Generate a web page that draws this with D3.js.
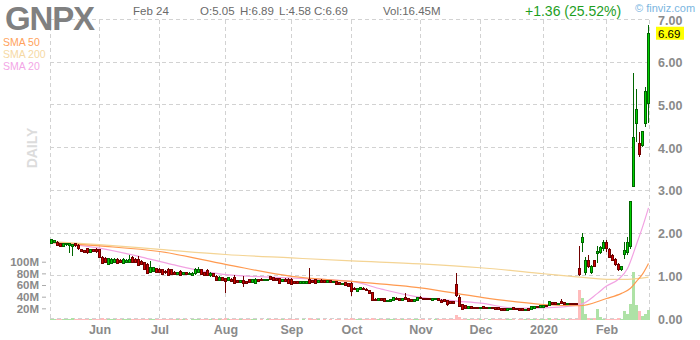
<!DOCTYPE html>
<html>
<head>
<meta charset="utf-8">
<script src="https://d3js.org/d3.v7.min.js"></script>
<style>
  body { margin: 0; background: #fff; }
  text { font-family: "Liberation Sans", Arial, sans-serif; }
</style>
</head>
<body>
<script>
// daily candles, May 9 2019 .. Feb 24 2020 (trading days)
var open = [
  1.77,1.80,1.80,1.76,1.70,1.74,1.72,1.70,1.76,1.73,
  1.62,1.60,1.64,1.55,1.62,1.63,1.62,1.45,1.42,1.28,
  1.30,1.32,1.40,1.38,1.30,1.32,1.33,1.45,1.40,1.40,
  1.35,1.32,1.28,1.10,1.12,1.18,1.17,1.15,1.12,1.17,
  1.15,1.10,1.04,1.12,1.04,1.09,1.04,1.03,1.06,1.10,
  1.16,1.08,1.14,1.01,1.06,1.00,0.90,0.97,0.95,0.90,
  0.93,0.97,0.90,0.85,0.90,0.88,0.92,0.86,0.83,0.92,
  0.93,0.89,0.90,0.99,0.97,0.95,0.95,0.88,0.93,0.93,
  0.93,0.88,0.87,0.83,0.84,0.84,0.93,0.90,0.92,0.85,
  0.91,0.90,0.86,0.90,0.85,0.87,0.85,0.80,0.85,0.82,
  0.84,0.72,0.64,0.68,0.72,0.70,0.66,0.62,0.46,0.43,
  0.47,0.48,0.41,0.42,0.44,0.49,0.48,0.44,0.50,0.48,
  0.46,0.40,0.44,0.51,0.48,0.48,0.49,0.44,0.45,0.47,
  0.44,0.45,0.43,0.40,0.40,0.80,0.51,0.33,0.31,0.24,
  0.29,0.28,0.28,0.24,0.29,0.28,0.24,0.28,0.27,0.27,
  0.25,0.25,0.21,0.22,0.26,0.25,0.24,0.24,0.20,0.24,
  0.23,0.25,0.29,0.27,0.28,0.32,0.32,0.38,0.38,0.34,
  0.42,0.38,0.34,0.37,0.37,0.36,1.19,1.78,1.08,1.37,
  1.08,1.36,1.54,1.55,1.64,1.80,1.62,1.48,1.40,1.28,
  1.15,1.50,1.55,1.70,3.11,4.57,4.12,4.07,4.57,5.05
];
var high = [
  1.88,1.86,1.82,1.78,1.78,1.78,1.79,1.76,1.78,1.75,
  1.64,1.62,1.66,1.64,1.64,1.66,1.64,1.47,1.44,1.43,
  1.42,1.42,1.42,1.40,1.42,1.40,1.49,1.47,1.42,1.48,
  1.37,1.34,1.30,1.35,1.22,1.20,1.19,1.17,1.14,1.19,
  1.17,1.12,1.10,1.14,1.11,1.11,1.09,1.09,1.20,1.22,
  1.18,1.10,1.16,1.09,1.08,1.02,1.00,0.99,0.97,0.98,
  0.95,1.03,0.92,0.92,1.00,0.90,0.94,0.93,0.95,0.94,
  0.95,0.93,0.94,1.01,0.99,0.97,0.97,0.93,0.95,0.95,
  0.95,0.90,0.89,0.88,0.89,0.88,1.19,0.92,0.94,0.91,
  0.93,0.92,0.91,0.92,0.89,0.89,0.87,0.85,0.87,0.84,
  0.86,0.74,0.73,0.76,0.74,0.72,0.68,0.64,0.48,0.48,
  0.49,0.50,0.45,0.47,0.51,0.51,0.50,0.50,0.60,0.50,
  0.47,0.46,0.51,0.53,0.50,0.49,0.50,0.48,0.49,0.49,
  0.46,0.46,0.44,0.42,0.41,1.07,0.56,0.34,0.32,0.30,
  0.30,0.29,0.29,0.29,0.30,0.29,0.29,0.29,0.28,0.28,
  0.26,0.26,0.25,0.26,0.27,0.26,0.25,0.25,0.24,0.25,
  0.30,0.30,0.30,0.32,0.33,0.33,0.41,0.39,0.39,0.38,
  0.47,0.39,0.38,0.38,0.38,0.37,1.71,2.01,1.45,1.50,
  1.27,1.38,1.70,1.72,1.86,1.84,1.66,1.52,1.42,1.30,
  1.25,1.80,1.92,2.76,5.76,5.39,4.38,4.40,5.43,6.89
];
var low = [
  1.75,1.78,1.71,1.68,1.69,1.72,1.55,1.47,1.69,1.62,
  1.56,1.54,1.53,1.54,1.56,1.55,1.44,1.29,1.31,1.27,
  1.29,1.31,1.29,1.30,1.29,1.31,1.32,1.32,1.31,1.24,
  1.27,1.14,1.06,1.09,1.10,1.09,1.07,1.04,1.06,1.02,
  1.03,1.02,1.02,1.00,1.02,1.02,1.02,1.01,1.04,1.08,
  1.03,1.01,1.00,0.99,0.98,0.88,0.88,0.89,0.62,0.88,
  0.87,0.82,0.84,0.84,0.74,0.83,0.84,0.85,0.82,0.87,
  0.88,0.88,0.89,0.91,0.90,0.89,0.82,0.87,0.87,0.81,
  0.79,0.83,0.82,0.82,0.83,0.83,0.83,0.85,0.82,0.84,
  0.85,0.85,0.85,0.85,0.84,0.79,0.80,0.79,0.77,0.76,
  0.55,0.67,0.63,0.67,0.67,0.65,0.59,0.42,0.42,0.42,
  0.42,0.39,0.40,0.41,0.43,0.44,0.43,0.43,0.45,0.39,
  0.40,0.39,0.43,0.46,0.44,0.45,0.44,0.43,0.44,0.43,
  0.37,0.39,0.30,0.36,0.35,0.52,0.28,0.22,0.24,0.23,
  0.24,0.23,0.24,0.23,0.24,0.24,0.23,0.24,0.21,0.22,
  0.19,0.20,0.20,0.21,0.22,0.21,0.20,0.19,0.19,0.20,
  0.22,0.24,0.25,0.26,0.27,0.29,0.31,0.34,0.33,0.33,
  0.36,0.34,0.33,0.33,0.34,0.32,1.00,1.57,1.03,1.20,
  1.05,1.22,1.30,1.52,1.60,1.58,1.42,1.35,1.24,1.13,
  1.13,1.40,1.50,1.65,3.09,4.15,3.80,4.02,4.50,4.58
];
var close = [
  1.86,1.84,1.72,1.69,1.76,1.76,1.76,1.74,1.71,1.64,
  1.58,1.56,1.55,1.62,1.58,1.57,1.45,1.30,1.33,1.42,
  1.40,1.40,1.30,1.32,1.40,1.38,1.40,1.33,1.33,1.25,
  1.28,1.15,1.07,1.20,1.20,1.10,1.08,1.05,1.08,1.03,
  1.04,1.04,1.08,1.01,1.09,1.04,1.07,1.07,1.16,1.17,
  1.04,1.03,1.01,1.07,0.99,0.89,0.98,0.90,0.88,0.96,
  0.88,0.83,0.85,0.90,0.82,0.84,0.85,0.92,0.93,0.88,
  0.89,0.92,0.93,0.92,0.91,0.90,0.83,0.92,0.88,0.82,
  0.80,0.84,0.83,0.87,0.88,0.87,0.84,0.86,0.83,0.90,
  0.86,0.86,0.90,0.86,0.88,0.80,0.81,0.84,0.78,0.77,
  0.64,0.68,0.72,0.74,0.68,0.66,0.60,0.43,0.43,0.47,
  0.43,0.40,0.44,0.46,0.50,0.45,0.44,0.49,0.46,0.40,
  0.41,0.45,0.50,0.47,0.45,0.46,0.45,0.47,0.48,0.44,
  0.38,0.40,0.34,0.37,0.36,0.56,0.29,0.23,0.25,0.29,
  0.25,0.24,0.25,0.28,0.25,0.25,0.28,0.25,0.22,0.23,
  0.20,0.21,0.24,0.25,0.23,0.22,0.21,0.20,0.23,0.21,
  0.29,0.29,0.26,0.31,0.32,0.30,0.40,0.35,0.34,0.37,
  0.37,0.35,0.37,0.34,0.35,0.33,1.05,1.90,1.38,1.24,
  1.24,1.24,1.58,1.67,1.80,1.65,1.45,1.38,1.28,1.15,
  1.22,1.60,1.80,2.74,4.26,4.90,3.86,4.38,5.33,6.69
];
// volume in millions
var volume = [
  2.1,1.5,1.8,1.6,1.2,1.1,2.4,2.8,1.3,1.6, 1.4,1.2,1.5,1.1,1.0,1.3,2.2,2.6,1.7,1.9,
  1.3,1.1,1.4,1.0,1.2,0.9,1.6,1.4,1.1,1.8, 1.2,2.0,2.3,1.9,1.3,1.2,1.5,1.4,1.1,1.6,
  1.3,1.0,0.9,1.2,1.1,1.0,0.8,0.9,1.7,1.8, 1.4,1.0,1.3,0.9,1.1,1.6,1.2,1.0,3.2,1.4,
  1.1,1.5,0.9,1.0,1.8,0.9,1.0,1.1,1.2,0.8, 0.9,0.8,0.9,1.1,1.0,0.9,1.3,1.0,0.9,1.2,
  1.4,1.0,0.9,0.8,0.9,0.8,3.0,1.2,1.1,0.9, 0.8,0.9,0.8,0.9,0.8,1.1,1.0,0.8,1.2,1.1,
  2.6,1.4,1.2,1.3,0.9,1.0,1.3,2.9,1.5,1.1, 1.0,1.3,0.9,1.0,1.2,0.9,1.0,1.1,1.6,1.4,
  1.1,1.0,1.2,1.1,0.9,0.8,0.9,0.8,0.9,1.0, 1.4,1.2,1.8,1.0,1.1,9.0,4.5,2.2,1.5,1.2,
  1.0,0.9,1.1,1.0,0.9,0.8,1.0,0.9,1.2,1.0, 1.3,1.1,0.9,1.0,0.9,0.8,0.9,1.1,1.0,0.9,
  1.4,1.2,1.0,1.3,1.5,1.1,3.0,1.6,1.4,1.2, 2.5,1.3,1.1,1.2,1.0,1.1,51,38,10,4,
  2.2,2.6,19,5,2.5,2.0,2.4,1.8,2.2,2.6, 1.9,15,10,27,82,26,15,7,11,16.45
];

// moving averages at a few days
var sma50Days  = [0, 16, 36, 58, 80, 100, 123, 143, 155, 164, 176, 185, 190, 193, 195, 197, 199];
var sma50      = [1.79, 1.71, 1.58, 1.28, 1.00, 0.88, 0.73, 0.51, 0.40, 0.34, 0.31, 0.48, 0.60, 0.72, 0.88, 1.05, 1.30];
var sma200Days = [0, 16, 36, 58, 80, 100, 123, 143, 164, 176, 185, 192, 199];
var sma200     = [1.81, 1.74, 1.63, 1.51, 1.43, 1.36, 1.29, 1.20, 1.06, 0.98, 0.93, 0.93, 0.98];
var sma20Days  = [0, 16, 30, 40, 58, 80, 100, 110, 121, 135, 143, 155, 164, 176, 182, 185, 189, 192, 195, 197, 199];
var sma20      = [1.79, 1.66, 1.45, 1.28, 1.04, 0.96, 0.88, 0.70, 0.53, 0.42, 0.37, 0.25, 0.26, 0.33, 0.60, 0.77, 0.93, 1.18, 1.75, 2.15, 2.60];

var monthDays   = [16, 36, 58, 80, 100, 123, 143, 164, 185];
var monthLabels = ["Jun", "Jul", "Aug", "Sep", "Oct", "Nov", "Dec", "2020", "Feb"];
var priceTicks  = [0, 1, 2, 3, 4, 5, 6, 7];
var volTicks    = [20, 40, 60, 80, 100];

function init(){

    var w = 700;
    var h = 340;

    var svg = d3.select("body")
                .append("svg")
                .attr("width", w)
                .attr("height", h);

    svg.append("rect").attr("width", w).attr("height", h).attr("fill", "#fff");

    var x = d3.scaleLinear().domain([-0.5, close.length - 0.5]).range([50, 650]);
    var y = d3.scaleLinear().domain([0, 7]).range([319, 20]);
    var yv = d3.scaleLinear().domain([0, 100]).range([320, 261.7]);

    var snap = function(v){ return Math.round(v) + 0.5; };
    var cx = function(i){ return Math.floor(x(i)) + 0.5; };

    //GRID
    var grid = svg.append("g")
        .attr("stroke", "#d2d2d2")
        .attr("stroke-dasharray", "4,3")
        .attr("shape-rendering", "crispEdges");

    grid.selectAll(".hg")
        .data(priceTicks)
        .enter()
        .append("line")
        .attr("x1", 50).attr("x2", 650)
        .attr("y1", function(d){ return snap(y(d)) - 1; })
        .attr("y2", function(d){ return snap(y(d)) - 1; });

    grid.selectAll(".vg")
        .data([-0.5].concat(monthDays).concat([close.length - 0.5]))
        .enter()
        .append("line")
        .attr("x1", function(d){ return d < 0 ? 50.5 : (d > 199 ? 649.5 : cx(d)); })
        .attr("x2", function(d){ return d < 0 ? 50.5 : (d > 199 ? 649.5 : cx(d)); })
        .attr("y1", 20).attr("y2", 319);

    //VOLUME
    svg.append("g")
        .selectAll("rect")
        .data(volume)
        .enter()
        .append("rect")
        .attr("x", function(d, i){ return x(i) - 1.5; })
        .attr("width", 3)
        .attr("y", function(d){ return yv(d); })
        .attr("height", function(d){ return yv(0) - yv(d); })
        .attr("fill", function(d, i){ return close[i] >= open[i] ? "#aee2a6" : "#ffbcbc"; })
        .attr("shape-rendering", "crispEdges");

    //MOVING AVERAGES
    var drawSma = function(days, vals, color){
        var line = d3.line()
            .x(function(d){ return x(d[0]); })
            .y(function(d){ return y(d[1]); })
            .curve(d3.curveMonotoneX);
        svg.append("path")
            .datum(d3.zip(days, vals))
            .attr("d", line)
            .attr("fill", "none")
            .attr("stroke", color)
            .attr("stroke-width", 1.2);
    };
    drawSma(sma200Days, sma200, "#f4d494");
    drawSma(sma20Days, sma20, "#f2a2e2");
    drawSma(sma50Days, sma50, "#ff9a50");

    //CANDLES
    var candles = svg.append("g")
        .attr("shape-rendering", "crispEdges")
        .selectAll("g")
        .data(close)
        .enter()
        .append("g");

    candles.append("line")
        .attr("x1", function(d, i){ return cx(i); })
        .attr("x2", function(d, i){ return cx(i); })
        .attr("y1", function(d, i){ return y(high[i]); })
        .attr("y2", function(d, i){ return y(low[i]); })
        .attr("stroke", function(d, i){ return d >= open[i] ? "#006600" : "#700000"; });

    candles.append("rect")
        .attr("x", function(d, i){ return cx(i) - 1; })
        .attr("width", 2)
        .attr("y", function(d, i){ return y(Math.max(d, open[i])); })
        .attr("height", function(d, i){ return Math.max(1, y(Math.min(d, open[i])) - y(Math.max(d, open[i]))); })
        .attr("fill", function(d, i){ return d >= open[i] ? "#00d000" : "#d00000"; })
        .attr("stroke", function(d, i){ return d >= open[i] ? "#006600" : "#700000"; })
        .attr("stroke-width", 1);

    //RIGHT PRICE AXIS
    var axisR = svg.append("g")
        .attr("transform", "translate(650,0)")
        .call(d3.axisRight(y).tickValues(priceTicks).tickFormat(d3.format(".2f")).tickSize(0).tickPadding(8));
    axisR.select(".domain").remove();
    axisR.selectAll("text")
        .attr("fill", "#8a8a8a")
        .attr("font-size", 12.5)
        .attr("font-weight", "bold")
        .attr("font-family", "'Liberation Sans', Arial, sans-serif");

    //LAST PRICE TAG
    var last = close[close.length - 1];
    svg.append("rect")
        .attr("x", 656).attr("y", y(last) - 6.5)
        .attr("width", 28).attr("height", 13)
        .attr("fill", "#ffff00");
    svg.append("text")
        .attr("x", 658).attr("y", y(last) + 4.5)
        .attr("font-size", 11.5)
        .attr("fill", "#000")
        .text(d3.format(".2f")(last));

    //LEFT VOLUME AXIS
    var axisV = svg.append("g")
        .attr("transform", "translate(46,0)")
        .call(d3.axisLeft(yv).tickValues(volTicks).tickFormat(function(d){ return d + "M"; }).tickSize(4).tickPadding(3));
    axisV.select(".domain").remove();
    axisV.selectAll("line").attr("stroke", "#aaa");
    axisV.selectAll("text")
        .attr("fill", "#8a8a8a")
        .attr("font-size", 11.5)
        .attr("font-weight", "bold")
        .attr("font-family", "'Liberation Sans', Arial, sans-serif");

    //BOTTOM DATE AXIS
    var axisB = svg.append("g")
        .attr("transform", "translate(0,322)")
        .call(d3.axisBottom(x).tickValues(monthDays).tickFormat(function(d, i){ return monthLabels[i]; }).tickSize(0).tickPadding(3));
    axisB.select(".domain").remove();
    axisB.selectAll("text")
        .attr("fill", "#8a8a8a")
        .attr("font-size", 12.5)
        .attr("font-weight", "bold")
        .attr("font-family", "'Liberation Sans', Arial, sans-serif");

    //HEADER
    svg.append("text")
        .attr("x", 5).attr("y", 30)
        .attr("font-size", 33).attr("font-weight", "bold")
        .attr("fill", "#808080")
        .attr("textLength", 90)
        .text("GNPX");

    var info = [["Feb 24", 133], ["O:5.05", 200], ["H:6.89", 240], ["L:4.58", 279], ["C:6.69", 314], ["Vol:16.45M", 383]];
    svg.selectAll(".info")
        .data(info)
        .enter()
        .append("text")
        .attr("x", function(d){ return d[1]; })
        .attr("y", 15)
        .attr("font-size", 11.5)
        .attr("fill", "#6a6a6a")
        .text(function(d){ return d[0]; });

    svg.append("text")
        .attr("x", 525).attr("y", 16)
        .attr("font-size", 14)
        .attr("fill", "#1e9e1e")
        .text("+1.36 (25.52%)");

    svg.append("text")
        .attr("x", 635).attr("y", 12)
        .attr("font-size", 11)
        .attr("fill", "#7ab6df")
        .text("\u00a9 finviz.com");

    //LEGEND
    var legend = [["SMA 50", "#ffa25c"], ["SMA 200", "#f6d9a4"], ["SMA 20", "#f3a6e6"]];
    svg.selectAll(".leg")
        .data(legend)
        .enter()
        .append("text")
        .attr("x", 3)
        .attr("y", function(d, i){ return 46 + i * 11.8; })
        .attr("font-size", 10.5)
        .attr("fill", function(d){ return d[1]; })
        .text(function(d){ return d[0]; });

    svg.append("text")
        .attr("transform", "translate(37,148) rotate(-90)")
        .attr("text-anchor", "middle")
        .attr("font-size", 14)
        .attr("font-weight", "bold")
        .attr("fill", "#dcdcdc")
        .text("DAILY");
}
window.onload = init;
</script>
</body>
</html>
